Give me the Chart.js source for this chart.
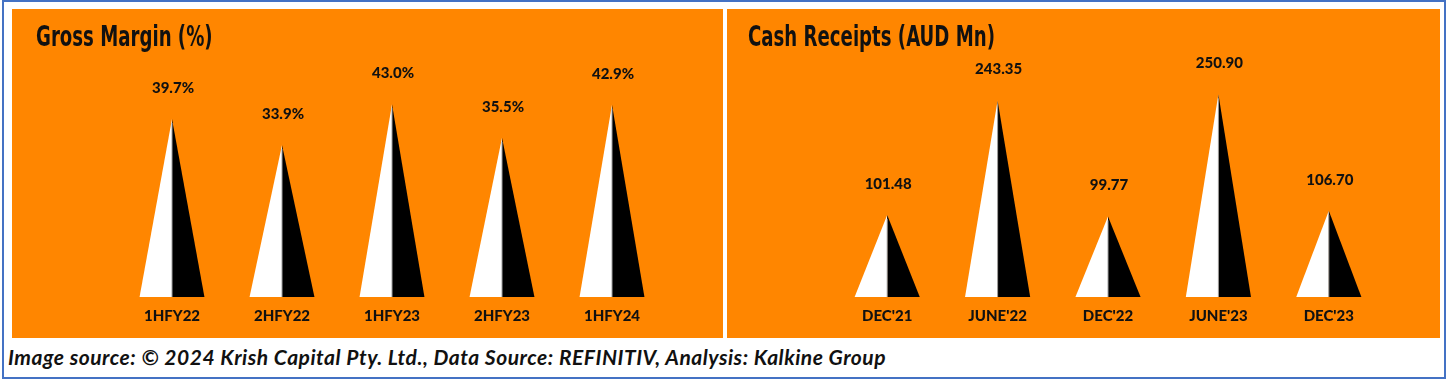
<!DOCTYPE html>
<html>
<head>
<meta charset="utf-8">
<script src="https://cdn.jsdelivr.net/npm/chart.js@4.4.1/dist/chart.umd.min.js"></script>
<style>
  html, body { margin: 0; padding: 0; background: #fff; }
  body { width: 1448px; height: 379px; position: relative; overflow: hidden; }
  .frame { position: absolute; left: 2px; top: 0; width: 1444px; height: 379px; border: 2px solid #4472c4; box-sizing: border-box; }
  .panel { position: absolute; top: 9px; height: 329px; background: #ff8600; }
  .panel canvas { position: absolute; left: 0; top: 0; }
  .title { position: absolute; top: 11px; font-family: "Liberation Sans Narrow", "DejaVu Sans Condensed", sans-serif; font-weight: bold; font-size: 28px; color: #111; white-space: nowrap; transform-origin: left center; transform: scaleX(0.72); }
  .footer { position: absolute; left: 8px; top: 344px; font-family: Lato, "Open Sans", sans-serif; font-style: italic; font-weight: bold; font-size: 21px; letter-spacing: 0.52px; color: #111; white-space: nowrap; }
</style>
</head>
<body>
<div class="frame"></div>
<div class="panel" style="left:12px;width:711px;">
  <canvas id="marginChart" width="711" height="329"></canvas>
  <div class="title" style="left:24px;">Gross Margin (%)</div>
</div>
<div class="panel" style="left:727px;width:713px;">
  <canvas id="cashChart" width="713" height="329"></canvas>
  <div class="title" style="left:21px;">Cash Receipts (AUD Mn)</div>
</div>
<div class="footer">Image source: © 2024 Krish Capital Pty. Ltd., Data Source: REFINITIV, Analysis: Kalkine Group</div>

<script>
// Chart data
const marginLabels = ["1HFY22", "2HFY22", "1HFY23", "2HFY23", "1HFY24"];
const marginValues = [39.7, 33.9, 43.0, 35.5, 42.9];

const cashLabels = ["DEC'21", "JUNE'22", "DEC'22", "JUNE'23", "DEC'23"];
const cashValues = [101.48, 243.35, 99.77, 250.9, 106.7];

const textColor = "#111";

// Draws each bar as a two-tone triangle, with its value above the tip
const trianglePlugin = {
  id: "triangles",
  afterDatasetsDraw(chart, args, opts) {
    const ctx = chart.ctx;
    const meta = chart.getDatasetMeta(0);
    const values = chart.data.datasets[0].data;
    ctx.save();
    meta.data.forEach((bar, i) => {
      const { x, y, base, width } = bar.getProps(["x", "y", "base", "width"], true);
      const half = width / 2;

      ctx.fillStyle = "#ffffff";
      ctx.beginPath();
      ctx.moveTo(x - half, base);
      ctx.lineTo(x, base);
      ctx.lineTo(x, y);
      ctx.closePath();
      ctx.fill();

      ctx.fillStyle = "#000000";
      ctx.beginPath();
      ctx.moveTo(x, base);
      ctx.lineTo(x + half, base);
      ctx.lineTo(x, y);
      ctx.closePath();
      ctx.fill();

      ctx.strokeStyle = "#a0a0a0";
      ctx.lineWidth = 1;
      ctx.beginPath();
      ctx.moveTo(x, base);
      ctx.lineTo(x, y + 4);
      ctx.stroke();

      ctx.fillStyle = textColor;
      ctx.font = "900 15px Lato, 'Open Sans', sans-serif";
      ctx.textAlign = "center";
      ctx.textBaseline = "middle";
      ctx.fillText(opts.format(values[i]), x + 1, y - 31);
    });
    ctx.restore();
  },
};

function makeChart(id, labels, values, maxValue, format) {
  const ctx = document.getElementById(id).getContext("2d");
  return new Chart(ctx, {
    type: "bar",
    data: {
      labels: labels,
      datasets: [
        {
          data: values,
          backgroundColor: "rgba(0,0,0,0)",
          borderWidth: 0,
          barPercentage: 0.59,
          categoryPercentage: 1,
        },
      ],
    },
    options: {
      responsive: false,
      animation: false,
      layout: {
        padding: { left: 105, right: 56, top: 19, bottom: 3 },
      },
      plugins: {
        legend: { display: false },
        tooltip: { enabled: false },
        triangles: { format: format },
      },
      scales: {
        x: {
          grid: { display: false, drawTicks: false },
          border: { display: false },
          ticks: {
            color: textColor,
            padding: 10,
            font: { family: "Lato, 'Open Sans', sans-serif", size: 15, weight: "900" },
          },
        },
        y: {
          display: false,
          min: 0,
          max: maxValue,
        },
      },
    },
    plugins: [trianglePlugin],
  });
}

makeChart("marginChart", marginLabels, marginValues, 60, (v) => v.toFixed(1) + "%");
makeChart("cashChart", cashLabels, cashValues, 333, (v) => v.toFixed(2));
</script>
</body>
</html>
